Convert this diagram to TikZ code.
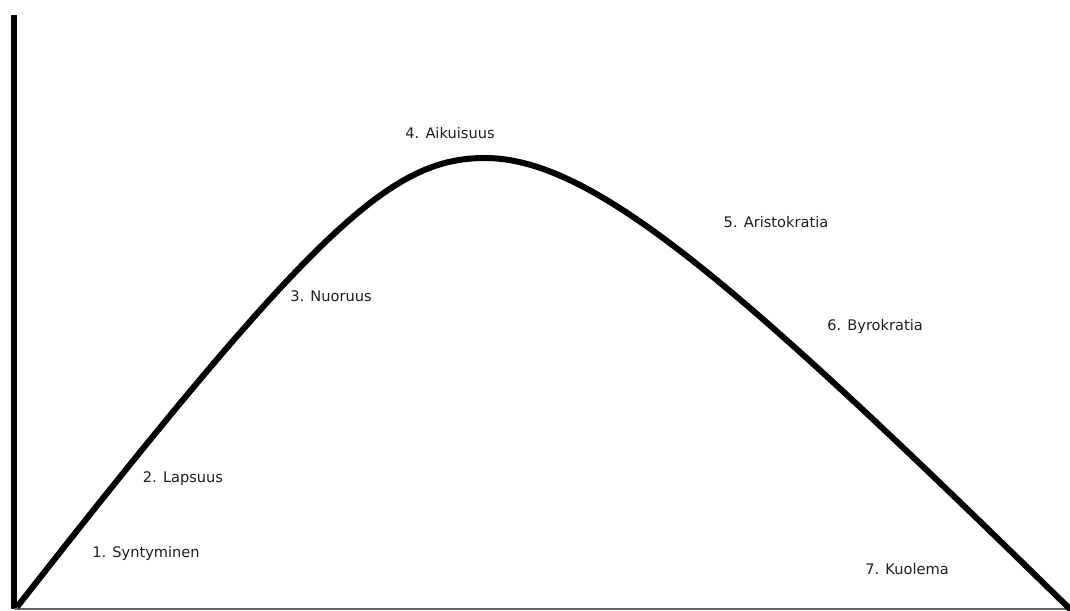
\documentclass[tikz,border=0pt]{standalone}
\usepackage{fontspec}
\setmainfont{DejaVu Sans}
\begin{document}
\begin{tikzpicture}[x=1pt,y=-1pt,
  lbl/.style={font=\fontsize{14.6}{16}\selectfont, text=black!88, inner sep=0pt},
  curve/.style={line width=6pt, line cap=butt, line join=round}]
\useasboundingbox[fill=white] (0,0) rectangle (1070,610);
% axes
\coordinate (top) at (14,15);
\coordinate (origin) at (14,609);
\coordinate (xend) at (1070,609);
\draw[line width=6pt] (top) -- (origin);
\draw[line width=2pt, black!60] (origin) -- (xend);
% curve
\coordinate (start) at (17,607);
\coordinate (peak) at (485,158);
\coordinate (finish) at (1072,611);
\draw[curve] (start) .. controls (316,225) and (392,158) .. (peak)
  .. controls (597,158) and (749,295) .. (finish);
% labels
\node[lbl] (l1) at (146,553) {1. Syntyminen};
\node[lbl] (l2) at (183,479) {2. Lapsuus};
\node[lbl] (l3) at (331,296) {3. Nuoruus};
\node[lbl] (l4) at (450,133) {4. Aikuisuus};
\node[lbl] (l5) at (776,222) {5. Aristokratia};
\node[lbl] (l6) at (875,326) {6. Byrokratia};
\node[lbl] (l7) at (907,569) {7. Kuolema};
\end{tikzpicture}
\end{document}
